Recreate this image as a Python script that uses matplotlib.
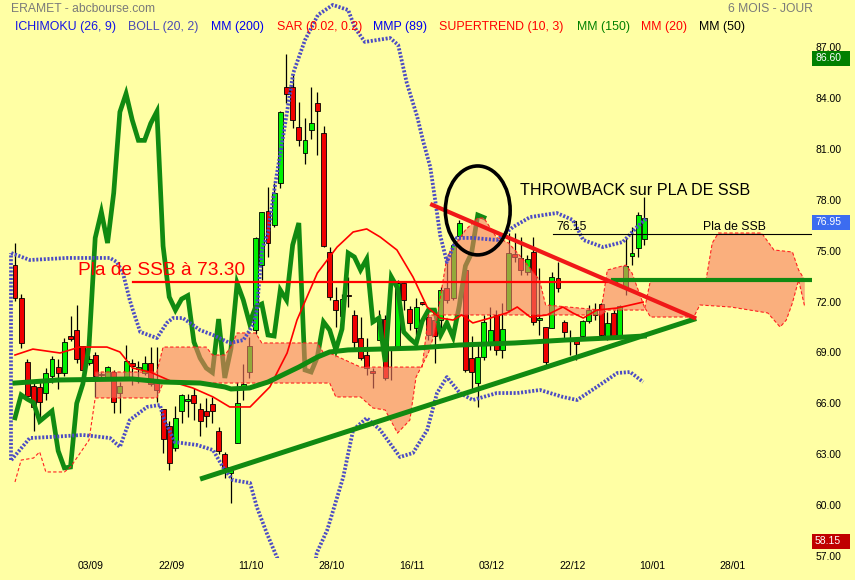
import matplotlib
matplotlib.use("Agg")
import matplotlib.pyplot as plt
import matplotlib.transforms as mtransforms
from matplotlib.patches import Ellipse, Rectangle
import numpy as np

# ── Price data (daily candles, index 0 = first visible session) ──────────────
opens = [74.15, 72.20, 68.45, 67.00, 66.95, 66.60, 67.60, 68.15, 67.80, 69.95,
         70.30, 69.40, 68.40, 68.85, 67.65, 67.55, 67.85, 66.60, 67.55, 68.40,
         68.00, 67.80, 68.40, 67.25, 65.65, 64.65, 63.35, 65.55, 66.15, 66.50,
         65.65, 65.55, 65.95, 64.40, 63.00, 61.90, 63.65, 67.05, 67.85, 70.30,
         74.15, 77.35, 76.50, 78.99, 84.64, 84.64, 82.30, 80.75, 82.11, 83.70,
         81.93, 74.92, 72.09, 71.15, 72.39, 71.21, 69.85, 68.85, 67.85, 69.73,
         70.97, 69.26, 69.32, 73.09, 71.56, 70.44, 71.97, 71.09, 70.91, 70.91,
         72.80, 72.21, 75.86, 73.86, 68.67, 67.20, 68.73, 69.44, 71.21, 69.15,
         71.50, 74.80, 74.57, 73.74, 74.92, 70.91, 70.50, 70.44, 73.39, 70.80,
         69.85, 69.79, 69.97, 70.85, 71.21, 71.86, 69.91, 71.33, 69.97, 72.86,
         74.68, 75.16, 75.69]
highs = [75.45, 72.45, 68.60, 67.40, 67.40, 68.10, 68.80, 68.60, 69.85, 71.15,
         71.80, 69.40, 68.85, 69.00, 67.85, 68.20, 67.95, 67.25, 69.45, 68.60,
         68.50, 68.80, 69.30, 69.30, 65.65, 64.95, 65.85, 66.55, 66.55, 66.90,
         66.05, 66.30, 66.40, 64.60, 63.15, 62.25, 67.25, 68.30, 69.90, 75.80,
         77.30, 78.75, 79.00, 83.20, 86.60, 85.35, 83.76, 82.82, 84.64, 84.35,
         82.35, 75.20, 72.86, 72.45, 73.45, 71.50, 71.09, 69.85, 68.08, 71.50,
         71.21, 69.26, 73.27, 73.09, 71.74, 72.21, 71.97, 71.39, 71.09, 72.86,
         74.27, 75.45, 76.81, 73.86, 69.97, 69.44, 71.21, 71.68, 71.50, 71.92,
         76.04, 76.04, 75.80, 74.74, 75.80, 73.98, 70.50, 73.74, 74.33, 70.91,
         70.32, 69.85, 70.91, 71.80, 71.92, 71.92, 71.39, 71.50, 71.80, 75.75,
         76.39, 77.28, 78.16]
lows = [72.05, 69.25, 66.20, 64.40, 65.20, 66.20, 67.20, 66.85, 67.60, 69.70,
        68.40, 67.85, 68.25, 66.40, 67.50, 67.50, 65.45, 65.45, 67.50, 67.10,
        67.20, 67.70, 67.00, 66.10, 63.10, 62.10, 63.20, 64.85, 65.20, 65.00,
        64.10, 64.60, 64.85, 63.00, 61.60, 60.15, 63.65, 66.20, 67.50, 70.10,
        73.30, 74.60, 76.40, 78.70, 83.70, 82.20, 81.17, 80.11, 81.58, 80.64,
        75.20, 72.09, 70.50, 71.03, 71.68, 69.15, 68.56, 67.67, 66.91, 69.73,
        67.38, 67.38, 69.26, 71.50, 70.32, 70.03, 71.80, 69.73, 68.38, 70.15,
        71.92, 72.09, 75.63, 67.85, 66.79, 65.79, 68.56, 69.15, 68.85, 68.67,
        71.39, 74.33, 73.57, 73.57, 70.62, 70.03, 68.26, 70.44, 72.56, 69.85,
        68.85, 68.56, 69.85, 70.74, 70.91, 69.91, 69.73, 69.85, 69.91, 72.39,
        74.15, 74.63, 75.33]
closes = [72.20, 69.55, 66.45, 65.80, 66.10, 67.80, 68.60, 67.80, 69.60, 69.80,
          68.60, 67.95, 68.60, 67.60, 67.65, 68.15, 66.10, 67.00, 68.50, 68.20,
          68.15, 68.40, 67.15, 66.80, 63.90, 62.50, 65.15, 66.50, 66.25, 66.05,
          64.95, 65.25, 65.55, 63.20, 62.20, 62.25, 66.00, 67.15, 69.40, 75.75,
          77.28, 75.45, 78.40, 83.17, 84.25, 82.70, 81.50, 81.50, 82.50, 83.20,
          75.27, 72.27, 71.50, 72.15, 72.35, 69.62, 68.67, 68.08, 67.82, 70.97,
          67.50, 69.22, 73.09, 72.09, 70.74, 71.68, 71.86, 70.03, 69.97, 72.68,
          72.09, 75.33, 76.63, 67.97, 67.85, 68.73, 70.80, 70.32, 69.15, 70.38,
          74.86, 74.63, 73.86, 74.51, 70.80, 71.03, 68.44, 73.45, 72.80, 70.21,
          69.82, 69.50, 70.85, 71.50, 71.50, 70.03, 70.74, 69.91, 71.74, 74.10,
          74.86, 77.10, 76.95]

date_labels = ["03/09", "22/09", "11/10", "28/10", "16/11", "03/12", "22/12", "10/01", "28/01"]
CHIKOU_SHIFT = 26

# ── Indicators (session index, value) ────────────────────────────────────────
span_a_x = [0, 1, 3, 4, 5, 8, 9, 12, 13, 23, 24, 51, 52, 56, 58, 60, 62, 64, 65, 67,
            68, 70, 73, 75, 76, 78, 80, 82, 85, 86, 95, 96, 99, 100, 102, 103, 110,
            111, 116, 122, 124, 125, 126, 127, 128]
span_a = [61.37, 62.66, 62.78, 63.14, 61.96, 61.96, 62.25, 63.84, 66.32, 66.32, 67.20,
          67.20, 66.38, 66.38, 65.73, 65.61, 64.25, 65.02, 67.55, 68.97, 70.15, 74.63,
          76.22, 76.92, 76.92, 75.80, 75.45, 74.63, 73.27, 71.80, 71.50, 73.86, 74.15,
          73.68, 71.68, 71.09, 71.09, 71.80, 71.68, 71.33, 70.50, 70.91, 71.92, 73.27,
          71.68]
span_b_x = [13, 23, 24, 31, 32, 34, 35, 36, 39, 40, 49, 50, 51, 56, 66, 67, 95, 96,
            102, 103, 112, 113, 114, 121, 123, 126, 127, 128]
span_b = [67.85, 67.85, 69.32, 69.32, 68.85, 68.85, 69.32, 70.15, 70.15, 69.56, 69.56,
          68.97, 68.97, 68.14, 68.14, 71.21, 71.21, 71.50, 71.50, 73.27, 73.27, 75.45,
          76.04, 76.04, 75.04, 74.92, 73.86, 73.27]

boll_up_x = [-0.6, 2.4, 8.4, 15.4, 16.5, 17.5, 18.6, 19.1, 20.3, 23.0, 24.6, 25.6, 27.2,
             30.0, 32.1, 34.8, 37.0, 38.6, 39.2, 40.0, 41.0, 42.1, 43.8, 45.1, 47.0,
             49.1, 51.5, 54.0, 55.1, 56.7, 60.8, 62.1, 63.5, 65.2, 66.1, 67.3, 68.1,
             68.9, 70.0, 70.8, 71.6, 74.2, 78.1, 80.7, 83.5, 87.8, 90.4, 92.1, 95.3,
             98.5, 100.8, 102.4]
boll_up = [74.86, 74.45, 74.57, 74.57, 74.33, 73.68, 72.09, 71.50, 70.21, 69.85, 70.74,
           71.03, 71.03, 70.32, 70.03, 69.56, 69.73, 70.62, 71.50, 75.04, 76.04, 78.75,
           82.52, 85.47, 87.41, 88.89, 89.48, 89.18, 88.12, 87.30, 87.53, 87.12, 84.88,
           82.88, 81.52, 79.93, 77.98, 75.92, 74.33, 75.04, 75.75, 75.75, 75.63, 76.39,
           76.98, 77.22, 76.81, 75.63, 75.21, 75.51, 76.39, 76.92]
boll_lo_x = [-0.6, 2.4, 5.7, 11.0, 15.4, 17.0, 18.6, 21.4, 23.5, 24.0, 25.9, 29.5, 32.1,
             33.7, 35.3, 38.1, 39.2, 40.8, 42.5, 44.1, 46.2, 47.8, 48.9, 50.6, 51.1, 53.2,
             54.8, 57.0, 59.2, 62.4, 64.5, 66.8, 68.4, 70.0, 72.1, 74.2, 78.1, 81.4, 85.1,
             88.8, 91.1, 94.3, 97.6, 99.7, 101.8]
boll_lo = [62.66, 63.96, 64.02, 64.14, 63.96, 63.43, 65.02, 65.79, 65.91, 65.20, 63.72,
           63.55, 63.25, 62.25, 61.48, 61.31, 59.89, 58.36, 56.89, 55.30, 53.20, 54.40,
           57.18, 58.54, 59.13, 61.66, 64.43, 65.14, 64.43, 62.84, 63.08, 64.43, 66.61,
           67.55, 66.61, 66.20, 66.61, 66.61, 66.79, 66.38, 66.20, 66.97, 67.79, 67.85,
           67.26]

mm20_x = [0, 2.9, 7.3, 10.5, 14.9, 17, 19.1, 21.9, 25.6, 28.8, 32.1, 34.8, 38.1, 41.3,
          44.1, 45.7, 49, 52.2, 54.8, 57, 59.2, 61.9, 64.5, 66.8, 68.9, 71, 72.4, 74.2,
          77, 79.7, 81.4, 83.5, 86.2, 88.8, 90.4, 92.1, 94.3, 97.6, 101.8]
mm20 = [68.85, 69.20, 68.97, 69.32, 69.32, 69.03, 68.08, 67.85, 67.26, 66.91, 66.38,
        65.79, 65.79, 66.97, 68.97, 70.91, 73.68, 75.21, 76.10, 76.28, 75.80, 75.04,
        73.45, 71.68, 71.03, 70.91, 71.21, 70.74, 71.03, 71.33, 71.68, 71.09, 71.21,
        71.68, 71.33, 71.03, 71.50, 71.62, 71.97]

mm150_x = [0, 7, 19, 24, 30, 34, 35, 38, 41, 46, 49, 51, 54, 65, 72, 81, 89, 96, 102]
mm150 = [67.20, 67.38, 67.44, 67.26, 67.20, 66.97, 66.85, 66.91, 67.26, 68.14, 68.73,
         69.03, 69.15, 69.26, 69.44, 69.56, 69.73, 69.85, 69.97]

# ── Drawn annotations ────────────────────────────────────────────────────────
support_x, support_y = [30.0, 110.4], [61.54, 71.00]
resist_x, resist_y = [67.3, 110.4], [77.75, 71.00]
ssb_red_x, ssb_red_level = [19.1, 97.6], 73.15
ssb_green_x, ssb_green_level = [96.9, 129.2], 73.30
throwback_x, throwback_level = [87.2, 129.2], 76.00
price_boxes = [("86.60", 86.60, "#008000"), ("76.95", 76.95, "#3c6cf0"), ("58.15", 58.15, "#c00000")]

BG = "#ffffa4"
GREEN = "#118a11"
BOLL = "#4c4cc4"
DOTS = (0, (0.55, 0.45))

plt.rcParams["font.family"] = ["Liberation Sans", "DejaVu Sans"]

fig = plt.figure(figsize=(8.55, 5.80), dpi=100, facecolor=BG)
ax = fig.add_axes([0, 22 / 580, 812 / 855, 558 / 580], facecolor=BG)
ax.set_xlim(-2.43, 129.17)
ax.set_ylim(56.89, 89.77)
for s in ax.spines.values():
    s.set_visible(False)

idx = np.arange(len(closes))
o, h, l, c = map(np.array, (opens, highs, lows, closes))
up = c >= o

# ── Candles ──────────────────────────────────────────────────────────────────
ax.vlines(idx, l, h, color="black", lw=0.9, zorder=2)
body = np.maximum(np.abs(c - o), 0.06)
ax.bar(idx, body, bottom=np.minimum(o, c), width=0.8,
       color=np.where(up, "#00f000", "#f00000"), edgecolor="black", linewidth=0.6, zorder=2.2)

# ── Chikou span (close shifted back 26 sessions) ─────────────────────────────
ax.plot(idx[:-CHIKOU_SHIFT], c[CHIKOU_SHIFT:], color=GREEN, lw=3.4, zorder=2.5,
        solid_joinstyle="miter")

# ── Ichimoku cloud ───────────────────────────────────────────────────────────
ax_a = np.array(span_a_x)
keep = ax_a >= span_b_x[0]
poly_x = np.concatenate([ax_a[keep], np.array(span_b_x)[::-1]])
poly_y = np.concatenate([np.array(span_a)[keep], np.array(span_b)[::-1]])
ax.fill(poly_x, poly_y, color="#f77a64", alpha=0.6, lw=0, zorder=3)
ax.plot(span_a_x, span_a, color="#ff2020", lw=0.8, ls=(0, (3, 2)), zorder=3.1)
ax.plot(span_b_x, span_b, color="#ff2020", lw=0.8, ls=(0, (3, 2)), zorder=3.1)

# ── Bollinger bands & moving averages ────────────────────────────────────────
ax.plot(boll_up_x, boll_up, color=BOLL, lw=2.7, ls=DOTS, zorder=4)
ax.plot(boll_lo_x, boll_lo, color=BOLL, lw=2.7, ls=DOTS, zorder=4)
ax.plot([boll_up_x[0]] * 2, [boll_lo[0], boll_up[0]], color=BOLL, lw=2.7, ls=DOTS, zorder=4)
ax.plot(mm20_x, mm20, color="#ff0000", lw=1.2, zorder=4.2)
ax.plot(mm150_x, mm150, color=GREEN, lw=3.6, zorder=4.5)

# ── Trend lines / levels ─────────────────────────────────────────────────────
ax.plot(ssb_red_x, [ssb_red_level] * 2, color="#ff0000", lw=1.6, zorder=5)
ax.plot(ssb_green_x, [ssb_green_level] * 2, color=GREEN, lw=3.0, zorder=5)
ax.plot(throwback_x, [throwback_level] * 2, color="black", lw=0.8, zorder=5)
ax.plot(support_x, support_y, color=GREEN, lw=3.6, zorder=5.5, solid_capstyle="butt")
ax.plot(resist_x, resist_y, color="#f01818", lw=3.0, zorder=5.5, solid_capstyle="butt")
ax.add_patch(Ellipse((75.0, 77.37), width=10.5, height=5.24, fill=False,
                     ec="black", lw=2.6, zorder=6))

ax.text(10.2, 73.86, "Pla de SSB à 73.30", color="#ff0000", fontsize=13.8,
        ha="left", va="center", zorder=7)
ax.text(81.85, 78.57, "THROWBACK sur PLA DE SSB", color="black", fontsize=11.6,
        ha="left", va="center", zorder=7)
ax.text(87.8, 76.39, "76.15", color="black", fontsize=8.8, ha="left", va="center", zorder=7)
ax.text(111.5, 76.39, "Pla de SSB", color="black", fontsize=8.8, ha="left", va="center", zorder=7)

# ── Axes ticks ───────────────────────────────────────────────────────────────
ax.yaxis.tick_right()
ax.set_yticks(np.arange(57, 88, 3))
ax.set_yticklabels([f"{v:.2f}" for v in np.arange(57, 88, 3)])
ax.tick_params(axis="y", length=0, pad=2.5, labelsize=7.5, colors="black")
ax.set_xticks(12.3 + 13 * np.arange(len(date_labels)))
ax.set_xticklabels(date_labels)
ax.tick_params(axis="x", length=0, pad=2.5, labelsize=7.5, colors="black")

trans = mtransforms.blended_transform_factory(ax.transAxes, ax.transData)
box_w = 38 / 812
box_h = 15 / 16.97
for label, value, col in price_boxes:
    top = value + 3 / 16.97
    ax.add_patch(Rectangle((1.0, top - box_h), box_w, box_h, transform=trans,
                           fc=col, ec="none", clip_on=False, zorder=8))
    ax.text(1.0 + 3 / 812, top - box_h / 2, label, transform=trans, color="white",
            fontsize=7.5, ha="left", va="center", clip_on=False, zorder=9)

# ── Header ───────────────────────────────────────────────────────────────────
fig.text(11 / 855, 1 - 8.5 / 580, "ERAMET - abcbourse.com", color="#7a7a7a",
         fontsize=8.7, ha="left", va="center")
fig.text(728 / 855, 1 - 8.5 / 580, "6 MOIS - JOUR", color="#7a7a7a",
         fontsize=8.7, ha="left", va="center")
legend_items = [("ICHIMOKU (26, 9)", "#1414e6", 15), ("BOLL (20, 2)", "#4a4ab4", 128),
                ("MM (200)", "#0000ee", 211), ("SAR (0.02, 0.2)", "#ff0000", 277),
                ("MMP (89)", "#0000ee", 373), ("SUPERTREND (10, 3)", "#ff0000", 439),
                ("MM (150)", "#008000", 577), ("MM (20)", "#ff0000", 641),
                ("MM (50)", "#000000", 699)]
for text, col, px in legend_items:
    fig.text(px / 855, 1 - 27 / 580, text, color=col, fontsize=8.9, ha="left", va="center")

fig.savefig("out.png", dpi=100, facecolor=BG)
